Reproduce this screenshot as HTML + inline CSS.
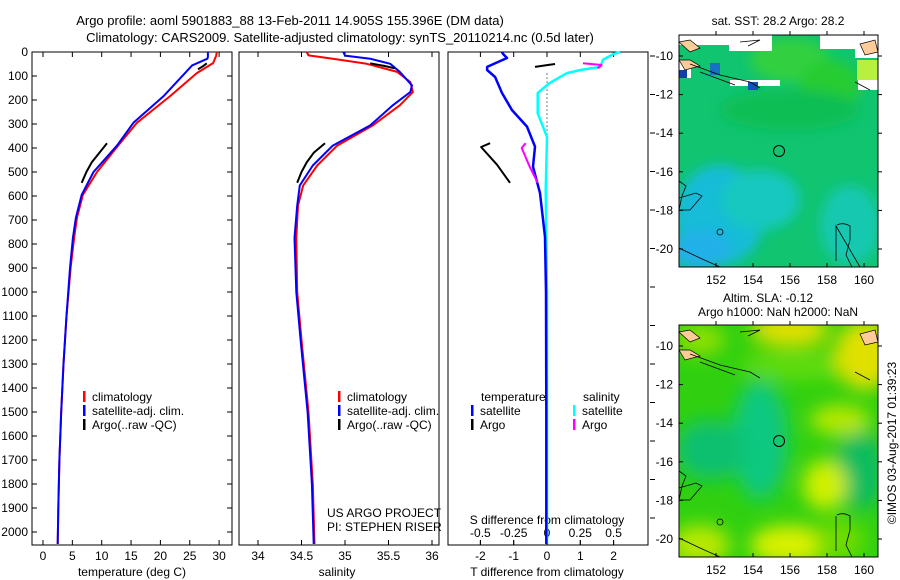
<!DOCTYPE html>
<html><head><meta charset="utf-8">
<style>
html,body{margin:0;padding:0;background:#fff;}
svg{display:block;font-family:"Liberation Sans",sans-serif;}
text{font-size:12px;fill:#000;}
</style></head>
<body>
<svg id="chart" width="900" height="580" viewBox="0 0 900 580" xmlns="http://www.w3.org/2000/svg">
<defs>
<filter id="blur1" x="-20%" y="-20%" width="140%" height="140%"><feGaussianBlur stdDeviation="6"/></filter>
<filter id="blur2" x="-30%" y="-30%" width="160%" height="160%"><feGaussianBlur stdDeviation="9"/></filter>
<clipPath id="clipM1"><rect x="679" y="35" width="199" height="232"/></clipPath>
<clipPath id="clipM2"><rect x="679" y="325" width="199" height="232"/></clipPath>
</defs>
<text x="290" y="25" text-anchor="middle" style="font-size:13px">Argo profile: aoml 5901883_88 13-Feb-2011 14.905S 155.396E (DM data)</text>
<text x="340" y="42" text-anchor="middle" style="font-size:13px">Climatology: CARS2009. Satellite-adjusted climatology: synTS_20110214.nc (0.5d later)</text>
<g id="p1"></g>
<g id="p2"></g>
<g id="p3"></g>

<g>
<g clip-path="url(#clipM1)">
<rect x="679" y="35" width="199" height="232" fill="#10c470"/>
<g filter="url(#blur1)">
<ellipse cx="720" cy="215" rx="45" ry="50" fill="#18bcd8"/>
<ellipse cx="700" cy="250" rx="30" ry="20" fill="#22b0e8"/>
<ellipse cx="760" cy="200" rx="40" ry="30" fill="#12c8c0"/>
<ellipse cx="850" cy="225" rx="30" ry="40" fill="#12c8b0"/>
<ellipse cx="790" cy="60" rx="40" ry="22" fill="#30d040"/>
<ellipse cx="830" cy="85" rx="30" ry="25" fill="#28cc30"/>
<ellipse cx="790" cy="110" rx="70" ry="20" fill="#10be55"/>
</g>
<rect x="857" y="60" width="21" height="20" fill="#b8f040"/>
<rect x="679" y="35" width="50" height="10" fill="#fff"/>
<rect x="729" y="35" width="43" height="16" fill="#fff"/>
<rect x="730" y="80" width="50" height="6" fill="#fff"/>
<rect x="679" y="60" width="12" height="18" fill="#fff"/>
<rect x="820" y="35" width="58" height="14" fill="#fff"/>
<rect x="855" y="48" width="23" height="10" fill="#fff"/>
<rect x="858" y="80" width="20" height="10" fill="#fff"/>
<rect x="679" y="70" width="8" height="8" fill="#1040a0"/>
<rect x="710" y="63" width="10" height="12" fill="#1870c0"/>
<rect x="748" y="82" width="10" height="8" fill="#1850c0"/>
<path d="M679 42 L690 40 L700 48 L690 52 Z M860 44 L875 40 L878 52 L865 55 Z M679 60 L690 60 L700 66 L685 70 Z" fill="#ffcc99" stroke="#000" stroke-width="0.7"/>
<path d="M690 64 L720 75 L750 82 L760 88 M700 72 L735 85 M855 82 L870 90 M740 42 L760 40 L748 46" fill="none" stroke="#000" stroke-width="0.8"/>
<path d="M679 248 L700 258 L720 267 M860 267 L836 226 L836 261 M679 181 L686 186 L682 196 L679 210 L690 210 L702 196 L696 193 L679 198" fill="none" stroke="#000" stroke-width="0.8"/>
<path d="M837 225 Q843 222 850 226 L850 240 L846 255 L852 267" fill="none" stroke="#000" stroke-width="0.8"/>
<circle cx="720" cy="232" r="3" fill="none" stroke="#000" stroke-width="0.8"/>
</g>
<circle cx="779" cy="151" r="5.5" fill="none" stroke="#000" stroke-width="1"/>
<rect x="679" y="35" width="199" height="232" fill="none" stroke="#000" stroke-width="1"/>
<text x="778" y="25" text-anchor="middle">sat. SST: 28.2 Argo: 28.2</text>
</g>

<g>
<g clip-path="url(#clipM2)">
<rect x="679" y="325" width="199" height="232" fill="#30d010"/>
<g filter="url(#blur2)">
<ellipse cx="760" cy="440" rx="28" ry="60" fill="#10c880"/>
<ellipse cx="710" cy="450" rx="35" ry="30" fill="#10c070"/>
<ellipse cx="860" cy="470" rx="25" ry="40" fill="#10bc60"/>
<ellipse cx="800" cy="365" rx="60" ry="15" fill="#60dc10"/>
<ellipse cx="790" cy="330" rx="40" ry="15" fill="#e8e000"/>
<ellipse cx="865" cy="355" rx="30" ry="35" fill="#e0e000"/>
<ellipse cx="840" cy="420" rx="30" ry="15" fill="#b8e800"/>
<ellipse cx="825" cy="485" rx="22" ry="25" fill="#d0f000"/>
<ellipse cx="790" cy="545" rx="40" ry="20" fill="#d8f000"/>
<ellipse cx="700" cy="545" rx="30" ry="20" fill="#b8e800"/>
<ellipse cx="700" cy="340" rx="25" ry="15" fill="#90e000"/>
<ellipse cx="840" cy="540" rx="25" ry="20" fill="#70dc00"/>
</g>
<path d="M679 332 L690 330 L700 338 L690 342 Z M860 334 L875 330 L878 342 L865 345 Z M679 350 L690 350 L700 356 L685 360 Z" fill="#ffcc99" stroke="#000" stroke-width="0.7"/>
<path d="M690 354 L720 365 L750 372 L760 378 M700 362 L735 375 M855 372 L870 380 M740 332 L760 330 L748 336" fill="none" stroke="#000" stroke-width="0.8"/>
<path d="M679 538 L700 548 L720 557 M679 471 L686 476 L682 486 L679 500 L690 500 L702 486 L696 483 L679 488" fill="none" stroke="#000" stroke-width="0.8"/>
<path d="M837 515 Q843 512 850 516 L850 530 L846 545 L852 557 M836 516 L836 551" fill="none" stroke="#000" stroke-width="0.8"/>
<circle cx="720" cy="522" r="3" fill="none" stroke="#000" stroke-width="0.8"/>
</g>
<circle cx="779" cy="441" r="5.5" fill="none" stroke="#000" stroke-width="1"/>
<rect x="679" y="325" width="199" height="232" fill="none" stroke="#000" stroke-width="1"/>
<text x="768" y="302" text-anchor="middle">Altim. SLA: -0.12</text>
<text x="778" y="316" text-anchor="middle">Argo h1000: NaN h2000: NaN</text>
</g>
<text transform="translate(896,443) rotate(-90)" text-anchor="middle">©IMOS 03-Aug-2017 01:39:23</text>
<g id="mapaxes"></g>
</svg>

<script>
// ---------- data ----------
var climTdepth = [0, 15, 46, 88, 185, 295, 390, 500, 595, 690, 775, 900, 1100, 1300, 1500, 1700, 1900, 2050];
var climT      = [29.6, 29.5, 29.0, 26.2, 21.6, 16.0, 12.8, 9.2, 6.8, 5.8, 5.3, 4.7, 4.0, 3.5, 3.1, 2.8, 2.6, 2.5];
var satTdepth  = [0, 20, 28, 56, 185, 295, 390, 500, 595, 690, 775, 900, 1100, 1300, 1500, 1700, 1900, 2050];
var satT       = [28.1, 28.1, 28.0, 25.4, 20.5, 15.4, 12.6, 8.6, 6.6, 5.6, 5.1, 4.6, 4.0, 3.5, 3.1, 2.8, 2.6, 2.5];
var argoT1depth = [47, 60, 72];
var argoT1      = [27.9, 27.2, 26.4];
var argoT2depth = [380, 420, 460, 500, 545];
var argoT2      = [10.9, 9.6, 8.3, 7.4, 6.6];

var climSdepth = [0, 14, 28, 49, 83, 125, 167, 222, 306, 390, 473, 556, 640, 775, 1000, 1200, 1500, 1800, 2050];
var climS      = [34.56, 34.58, 34.86, 35.25, 35.60, 35.75, 35.78, 35.63, 35.32, 34.91, 34.68, 34.52, 34.46, 34.44, 34.45, 34.50, 34.58, 34.63, 34.65];
var satSdepth  = [0, 15, 28, 49, 83, 139, 167, 222, 306, 390, 473, 556, 640, 775, 1000, 1200, 1500, 1800, 2050];
var satS       = [34.98, 35.0, 35.29, 35.52, 35.63, 35.77, 35.75, 35.55, 35.29, 34.86, 34.63, 34.48, 34.45, 34.42, 34.44, 34.49, 34.57, 34.62, 34.64];
var argoS1depth = [47, 58, 68];
var argoS1      = [35.29, 35.45, 35.57];
var argoS2depth = [380, 420, 460, 500, 545];
var argoS2      = [34.77, 34.64, 34.56, 34.50, 34.45];

var dTdepth = [0, 8, 25, 62, 75, 104, 171, 242, 311, 394, 478, 588, 770, 1000, 1500, 2050];
var dT      = [-1.35, -1.32, -1.2, -1.8, -1.8, -1.56, -1.35, -1.05, -0.6, -0.36, -0.42, -0.21, -0.06, -0.03, -0.02, -0.02];
var dSdepth = [0, 8, 33, 62, 75, 88, 129, 171, 255, 354, 575, 1000, 2050];
var dS      = [0.55, 0.5, 0.42, 0.4, 0.25, 0.15, 0.02, -0.07, -0.07, 0.0, -0.01, 0.0, 0.0];
var argoDT1depth = [50, 56, 62];
var argoDT1      = [0.24, -0.05, -0.36];
var argoDT2depth = [380, 396, 470, 545];
var argoDT2      = [-1.71, -1.98, -1.5, -1.11];
var argoDS1depth = [47, 54, 68];
var argoDS1      = [0.27, 0.41, 0.38];
var argoDS2depth = [380, 400, 478, 545];
var argoDS2      = [-0.16, -0.19, -0.13, -0.07];

var depthTicks = [0,100,200,300,400,500,600,700,800,900,1000,1100,1200,1300,1400,1500,1600,1700,1800,1900,2000];
var tempTicks = [0,5,10,15,20,25,30];
var salTicks = [34,34.5,35,35.5,36];
var salTickLabels = ["34","34.5","35","35.5","36"];
var dTTicks = [-2,-1,0,1,2];
var dSTicks = [-0.5,-0.25,0,0.25,0.5];
var dSTickLabels = ["-0.5","-0.25","0","0.25","0.5"];
var latTicks = [-10,-12,-14,-16,-18,-20];
var lonTicks = [152,154,156,158,160];

// ---------- scales ----------
var NS = "http://www.w3.org/2000/svg";
var TOP = 52, BOT = 545;
function yD(d){ return 52 + d*0.24; }
function xT(t){ return 43 + t*5.87; }
function xS(s){ return 258 + (s-34)*87; }
function xDT(v){ return 547 + v*33.3; }
function xDS(v){ return 547 + v*133.2; }
function yLat(l){ return 56 + (-10 - l)*19.3; }
function yLat2(l){ return 346 + (-10 - l)*19.3; }
function xLon(l){ return 716 + (l-152)*18.5; }

function mk(tag, attrs, parent){
  var e = document.createElementNS(NS, tag);
  for (var k in attrs) e.setAttribute(k, attrs[k]);
  parent.appendChild(e);
  return e;
}
function line(parent, depths, vals, xf, color, w, name){
  var d = "";
  for (var i=0;i<depths.length;i++){ d += (i? "L":"M") + xf(vals[i]).toFixed(1) + " " + yD(depths[i]).toFixed(1); }
  var p = mk("path", {d:d, fill:"none", stroke:color, "stroke-width":w, "stroke-linejoin":"round"}, parent);
  
  
  return p;
}
function txt(parent, x, y, s, anchor, name){
  var t = mk("text", {x:x, y:y, "text-anchor":anchor||"start"}, parent);
  t.textContent = s;
  
  
  return t;
}
function frame(g, x0, x1, name){
  var r = mk("rect", {x:x0, y:TOP, width:x1-x0, height:BOT-TOP, fill:"none", stroke:"#000", "stroke-width":1}, g);
  
  
}
var p1 = document.getElementById("p1"), p2 = document.getElementById("p2"), p3 = document.getElementById("p3");
frame(p1, 32, 232, "temperature-plot-frame");
frame(p2, 239, 439, "salinity-plot-frame");
frame(p3, 448, 648, "difference-plot-frame");

depthTicks.forEach(function(d){
  var y = yD(d);
  mk("line",{x1:32,y1:y,x2:37,y2:y,stroke:"#000"},p1);
  mk("line",{x1:227,y1:y,x2:232,y2:y,stroke:"#000"},p1);
  txt(p1, 28, y+4, String(d), "end", "depth-tick-label");
});
for (var k=0;k<13;k++){ var yy = 56 + k*38.5; mk("line",{x1:650,y1:yy,x2:655,y2:yy,stroke:"#000"},p3); }

tempTicks.forEach(function(t){
  var x = xT(t);
  mk("line",{x1:x,y1:BOT,x2:x,y2:BOT-5,stroke:"#000"},p1);
  mk("line",{x1:x,y1:TOP,x2:x,y2:TOP+5,stroke:"#000"},p1);
  txt(p1, x, 560, String(t), "middle", "temperature-tick-label");
});
salTicks.forEach(function(s,i){
  var x = xS(s);
  mk("line",{x1:x,y1:BOT,x2:x,y2:BOT-5,stroke:"#000"},p2);
  mk("line",{x1:x,y1:TOP,x2:x,y2:TOP+5,stroke:"#000"},p2);
  txt(p2, x, 560, salTickLabels[i], "middle", "salinity-tick-label");
});
dTTicks.forEach(function(v){
  var x = xDT(v);
  mk("line",{x1:x,y1:BOT,x2:x,y2:BOT-5,stroke:"#000"},p3);
  mk("line",{x1:x,y1:TOP,x2:x,y2:TOP+5,stroke:"#000"},p3);
  txt(p3, x, 560, String(v), "middle", "t-diff-tick-label");
});
dSTicks.forEach(function(v,i){
  var x = xDS(v);
  mk("line",{x1:x,y1:BOT,x2:x,y2:BOT-5,stroke:"#000"},p3);
  txt(p3, x, 537, dSTickLabels[i], "middle", "s-diff-tick-label");
});
txt(p1, 132, 576, "temperature (deg C)", "middle", "x-axis-title-temperature");
txt(p2, 337, 576, "salinity", "middle", "x-axis-title-salinity");
txt(p3, 547, 576, "T difference from climatology", "middle", "x-axis-title-t-diff");
txt(p3, 547, 524, "S difference from climatology", "middle", "x-axis-title-s-diff");

line(p1, climTdepth, climT, xT, "#ff0000", 2, "temperature-climatology-line");
line(p1, satTdepth, satT, xT, "#0000ff", 2, "temperature-satellite-line");
line(p1, argoT1depth, argoT1, xT, "#000", 2, "temperature-argo-line-top");
line(p1, argoT2depth, argoT2, xT, "#000", 2, "temperature-argo-line");

line(p2, climSdepth, climS, xS, "#ff0000", 2, "salinity-climatology-line");
line(p2, satSdepth, satS, xS, "#0000ff", 2, "salinity-satellite-line");
line(p2, argoS1depth, argoS1, xS, "#000", 2, "salinity-argo-line-top");
line(p2, argoS2depth, argoS2, xS, "#000", 2, "salinity-argo-line");

var zl = mk("line",{x1:547,y1:yD(90),x2:547,y2:yD(420),stroke:"#000","stroke-width":1,"stroke-dasharray":"1,3"},p3);


line(p3, dSdepth, dS, xDS, "#00ffff", 2.5, "s-diff-satellite-line");
line(p3, dTdepth, dT, xDT, "#0000ff", 2.5, "t-diff-satellite-line");
line(p3, argoDT1depth, argoDT1, xDT, "#000", 2, "t-diff-argo-line-top");
line(p3, argoDT2depth, argoDT2, xDT, "#000", 2, "t-diff-argo-line");
line(p3, argoDS1depth, argoDS1, xDS, "#ff00ff", 2, "s-diff-argo-line-top");
line(p3, argoDS2depth, argoDS2, xDS, "#ff00ff", 2, "s-diff-argo-line");

function legend(g, x, y, color, label, name){
  var m = mk("rect",{x:x-1, y:y-6, width:2.5, height:11, fill:color}, g);
  
  
  txt(g, x+8, y+4, label, "start", name + '-label');
}
legend(p1, 84, 397, "#ff0000", "climatology", "legend-climatology");
legend(p1, 84, 411, "#0000ff", "satellite-adj. clim.", "legend-satellite");
legend(p1, 84, 425, "#000", "Argo(..raw -QC)", "legend-argo");
legend(p2, 339, 397, "#ff0000", "climatology", "legend-climatology-s");
legend(p2, 339, 411, "#0000ff", "satellite-adj. clim.", "legend-satellite-s");
legend(p2, 339, 425, "#000", "Argo(..raw -QC)", "legend-argo-s");
txt(p3, 481, 401, "temperature", "start", "legend-temperature-heading");
txt(p3, 583, 401, "salinity", "start", "legend-salinity-heading");
legend(p3, 472, 411, "#0000ff", "satellite", "legend-t-satellite");
legend(p3, 472, 425, "#000", "Argo", "legend-t-argo");
legend(p3, 574, 411, "#00ffff", "satellite", "legend-s-satellite");
legend(p3, 574, 425, "#ff00ff", "Argo", "legend-s-argo");
txt(p2, 327, 517, "US ARGO PROJECT", "start", "project-label");
txt(p2, 327, 531, "PI: STEPHEN RISER", "start", "pi-label");

var ma = document.getElementById("mapaxes");
latTicks.forEach(function(l){
  var y1 = yLat(l), y2 = yLat2(l);
  mk("line",{x1:679,y1:y1,x2:683,y2:y1,stroke:"#000"},ma);
  mk("line",{x1:878,y1:y1,x2:882,y2:y1,stroke:"#000"},ma);
  txt(ma, 673, y1+4, String(l), "end", "sst-map-lat-label");
  mk("line",{x1:679,y1:y2,x2:683,y2:y2,stroke:"#000"},ma);
  mk("line",{x1:878,y1:y2,x2:882,y2:y2,stroke:"#000"},ma);
  txt(ma, 673, y2+4, String(l), "end", "sla-map-lat-label");
});
lonTicks.forEach(function(l){
  var x = xLon(l);
  mk("line",{x1:x,y1:31,x2:x,y2:35,stroke:"#000"},ma);
  mk("line",{x1:x,y1:267,x2:x,y2:263,stroke:"#000"},ma);
  txt(ma, x, 284, String(l), "middle", "sst-map-lon-label");
  mk("line",{x1:x,y1:321,x2:x,y2:325,stroke:"#000"},ma);
  mk("line",{x1:x,y1:557,x2:x,y2:553,stroke:"#000"},ma);
  txt(ma, x, 574, String(l), "middle", "sla-map-lon-label");
});
</script>
</body></html>
